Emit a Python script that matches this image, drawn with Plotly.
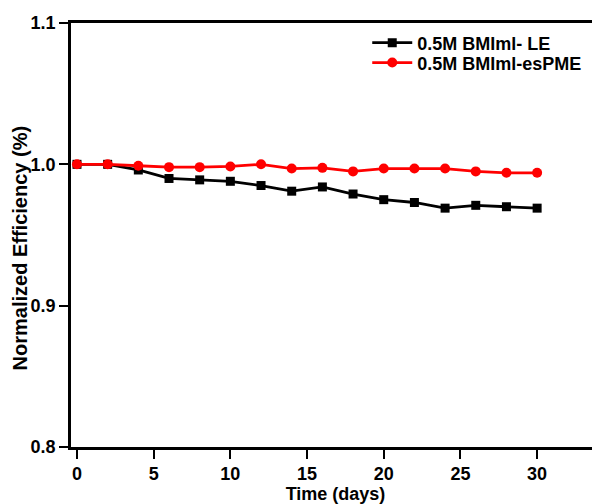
import plotly.graph_objects as go

days = [0, 2, 4, 6, 8, 10, 12, 14, 16, 18, 20, 22, 24, 26, 28, 30]
le_eff = [1.000, 1.000, 0.996, 0.990, 0.989, 0.988, 0.985, 0.981, 0.984, 0.979,
          0.975, 0.973, 0.969, 0.971, 0.970, 0.969]
espme_eff = [1.000, 1.000, 0.999, 0.998, 0.998, 0.9985, 1.000, 0.997, 0.9975, 0.995,
             0.997, 0.997, 0.997, 0.995, 0.994, 0.994]
x_ticks = [0, 5, 10, 15, 20, 25, 30]
y_ticks = [0.8, 0.9, 1.0, 1.1]

font = "Liberation Sans, Arial, sans-serif"

fig = go.Figure()
fig.add_trace(go.Scatter(
    x=days, y=le_eff, mode="lines+markers", name="<b>0.5M BMIml- LE</b>",
    line=dict(color="black", width=2.8),
    marker=dict(symbol="square", size=9, color="black"),
    legend="legend",
))
fig.add_trace(go.Scatter(
    x=days, y=espme_eff, mode="lines+markers", name="<b>0.5M BMIml-esPME</b>",
    line=dict(color="#ff0000", width=2.8),
    marker=dict(symbol="circle", size=10, color="#ff0000"),
    legend="legend2",
))

leg_common = dict(xanchor="left", yanchor="middle", bgcolor="rgba(0,0,0,0)",
                  font=dict(size=18, family=font), itemwidth=40)

fig.update_layout(
    width=592, height=496,
    margin=dict(l=63, r=0, t=15, b=57),
    plot_bgcolor="white", paper_bgcolor="white",
    font=dict(family=font, size=18, color="black"),
    showlegend=True,
    legend=dict(x=0.56, y=0.953, **leg_common),
    legend2=dict(x=0.56, y=0.906, **leg_common),
    annotations=[dict(
        text="<b>Normalized Efficiency (%)</b>", textangle=-90,
        xref="paper", yref="paper", x=-0.097, y=0.47,
        xanchor="center", yanchor="middle", showarrow=False,
        font=dict(size=20, family=font, color="black"),
    )],
)
fig.update_xaxes(
    range=[-0.39, 34.1], tickvals=x_ticks, ticktext=[f"<b>{v}</b>" for v in x_ticks],
    showline=True, linecolor="black", linewidth=2.5, mirror=True,
    ticks="outside", ticklen=9, tickwidth=2, tickcolor="black",
    showgrid=False, zeroline=False,
    title=dict(text="<b>Time (days)</b>", font=dict(size=18), standoff=2),
)
fig.update_yaxes(
    range=[0.8, 1.1], tickvals=y_ticks, ticktext=[f"<b>{v:.1f}</b>" for v in y_ticks],
    showline=True, linecolor="black", linewidth=2.5,
    ticks="outside", ticklen=9, tickwidth=2, tickcolor="black",
    showgrid=False, zeroline=False,
)

fig.write_html("out.html")
